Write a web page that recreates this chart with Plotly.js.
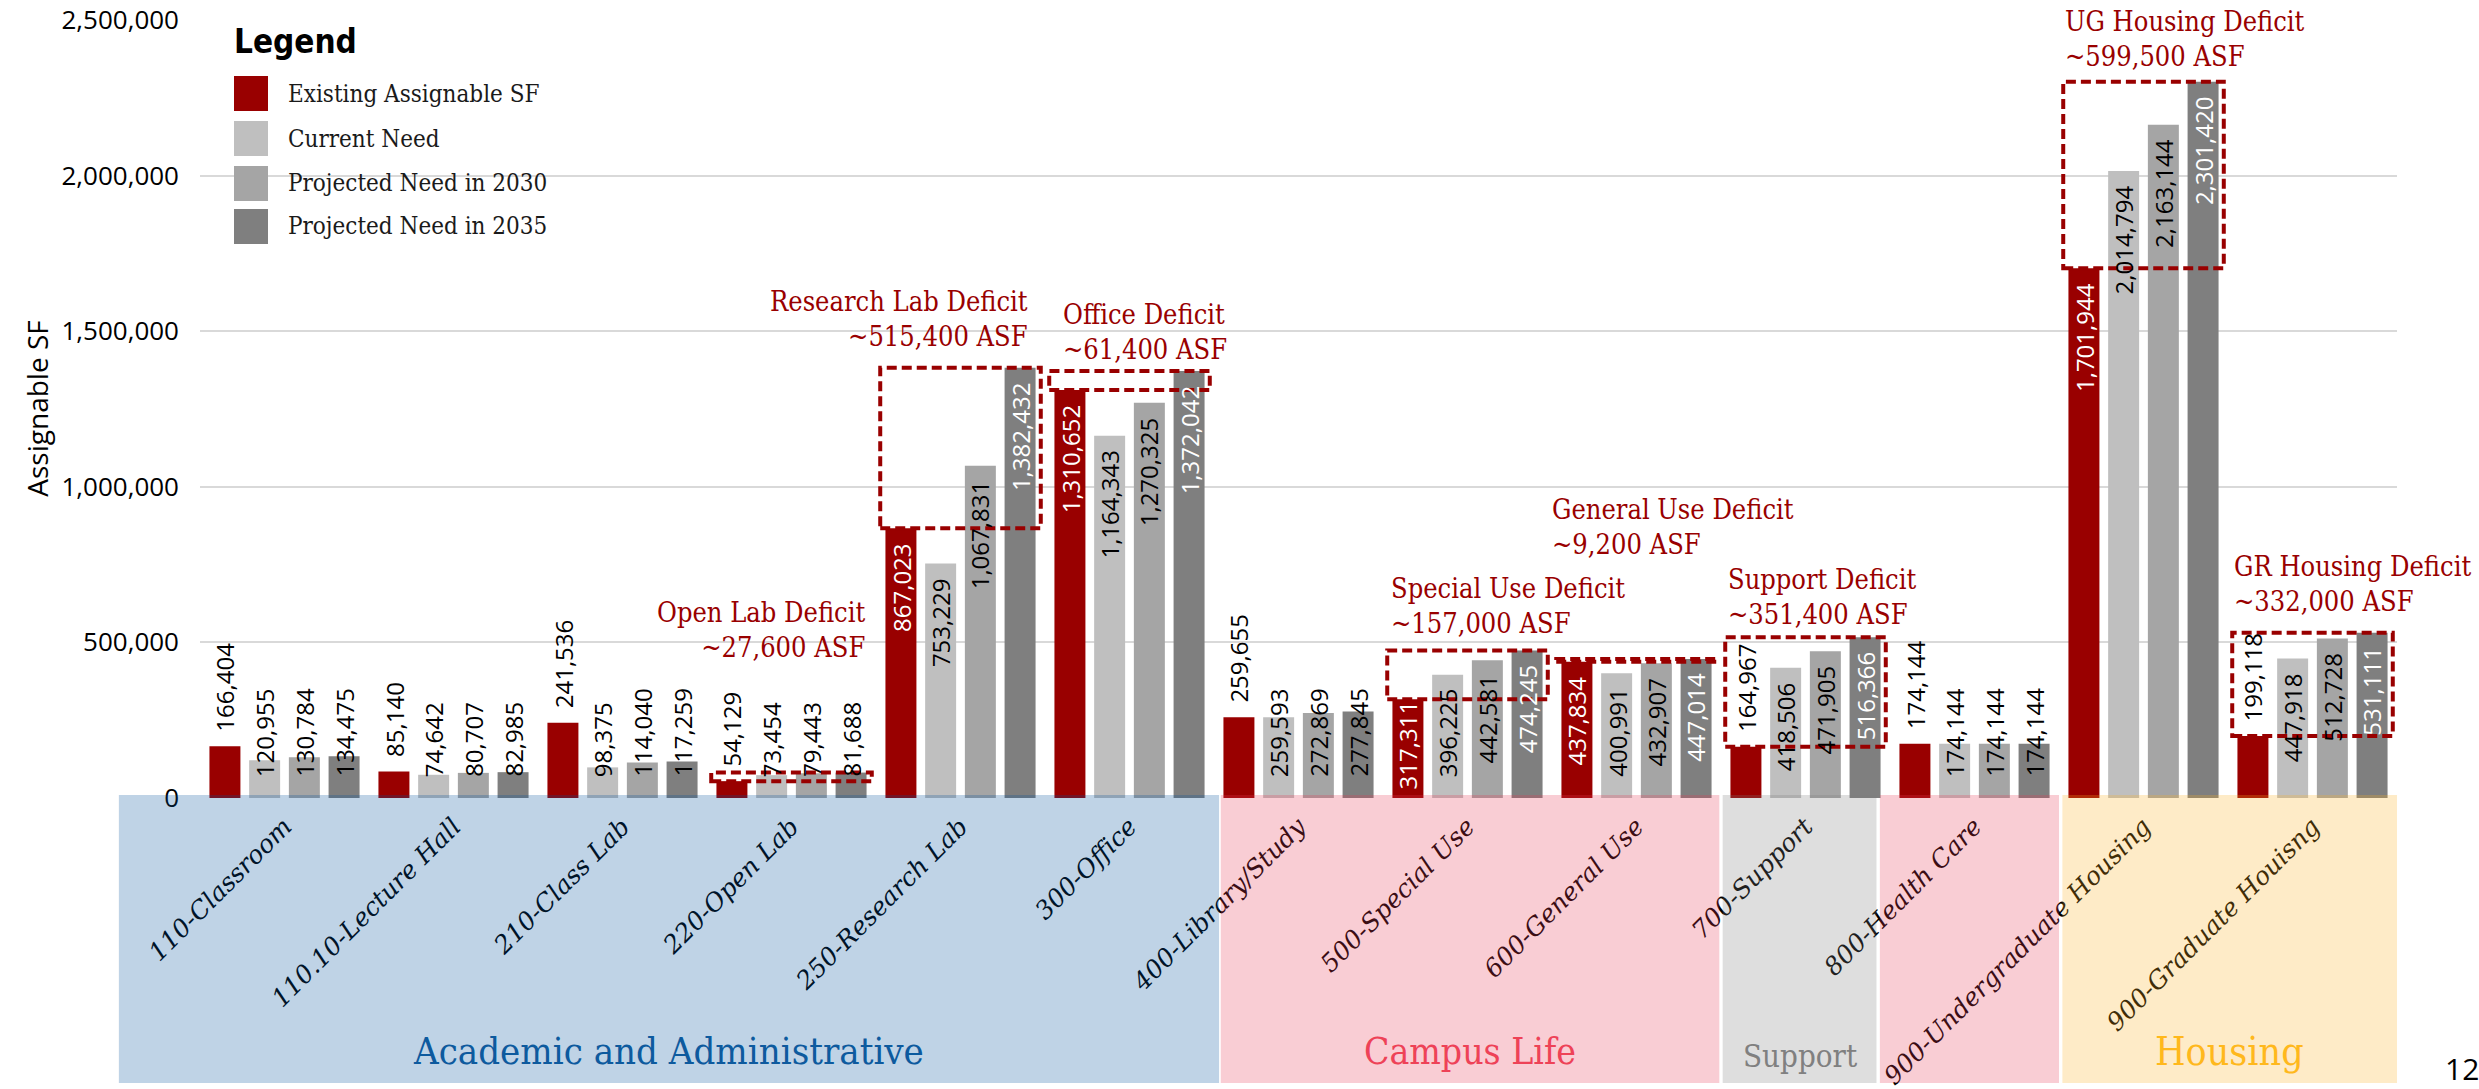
<!DOCTYPE html>
<html>
<head>
<meta charset="utf-8">
<script src="https://cdn.plot.ly/plotly-3.0.1.min.js"></script>
<style>
html,body{margin:0;padding:0;background:#ffffff;}
#chart{width:2479px;height:1089px;}
</style>
</head>
<body>
<div id="chart"></div>
<script>
// ---------------- DATA ----------------
const categories = ["110-Classroom", "110.10-Lecture Hall", "210-Class Lab", "220-Open Lab", "250-Research Lab", "300-Office", "400-Library/Study", "500-Special Use", "600-General Use", "700-Support", "800-Health Care", "900-Undergraduate Housing", "900-Graduate Houisng"];
const seriesNames = ["Existing Assignable SF", "Current Need", "Projected Need in 2030", "Projected Need in 2035"];
const existingSF = [166404, 85140, 241536, 54129, 867023, 1310652, 259655, 317311, 437834, 164967, 174144, 1701944, 199118];
const currentNeed = [120955, 74642, 98375, 73454, 753229, 1164343, 259593, 396225, 400991, 418506, 174144, 2014794, 447918];
const need2030 = [130784, 80707, 114040, 79443, 1067831, 1270325, 272869, 442581, 432907, 471905, 174144, 2163144, 512728];
const need2035 = [134475, 82985, 117259, 81688, 1382432, 1372042, 277845, 474245, 447014, 516366, 174144, 2301420, 531111];
const yTickVals = [0, 500000, 1000000, 1500000, 2000000, 2500000];

const deficitCategories = ["220-Open Lab", "250-Research Lab", "300-Office", "500-Special Use", "600-General Use", "700-Support", "900-Undergraduate Housing", "900-Graduate Houisng"];
const deficitTitles = ["Open Lab Deficit", "Research Lab Deficit", "Office Deficit", "Special Use Deficit", "General Use Deficit", "Support Deficit", "UG Housing Deficit", "GR Housing Deficit"];
const deficitAmounts = ["~27,600 ASF", "~515,400 ASF", "~61,400 ASF", "~157,000 ASF", "~9,200 ASF", "~351,400 ASF", "~599,500 ASF", "~332,000 ASF"];

const groupNames = ["Academic and Administrative", "Campus Life", "Support", "", "Housing"];
const yTitle = "Assignable SF";
const legendTitle = "Legend";
const pageNumber = "12";

// ---------------- STYLE / LAYOUT CONFIG ----------------
const W = 2479, Hh = 1089;
const M = {l: 200, r: 82, t: 19, b: 291};
const plotW = W - M.l - M.r, plotH = Hh - M.t - M.b;
const yRangeTop = 2503000;
const seriesColors = ["#990000", "#bfbfbf", "#a5a5a5", "#7f7f7f"];
const deficitRed = "#990000";
const serif = "DejaVu Serif Condensed, DejaVu Serif, serif";
const sans = "Open Sans, Noto Sans, sans-serif";
const bargap = 0.06, bargroupgap = 0.22;

// band edges in category units, and colours
const bandEdges = [[-0.98, 5.53], [5.54, 8.49], [8.51, 9.42], [9.44, 10.50], [10.52, 12.5]];
const bandColors = ["rgba(0,79,155,0.25)", "rgba(231,55,83,0.25)", "rgba(123,123,123,0.25)", "rgba(231,55,83,0.25)", "rgba(251,175,31,0.25)"];
const groupTextColors = ["#0d5a9e", "#ee4257", "#808080", "#000", "#ffb81c"];
const groupTextSizes = [38, 37, 31, 30, 39];
const groupTextY = [1051, 1051, 1056, 1051, 1051];

// deficit label placement (pixels)
const deficitLabelPos = [
  {x: 866, y: 630, a: "right"},
  {x: 1029, y: 319, a: "right"},
  {x: 1062, y: 332, a: "left"},
  {x: 1390, y: 606, a: "left"},
  {x: 1551, y: 527, a: "left"},
  {x: 1727, y: 597, a: "left"},
  {x: 2064, y: 39, a: "left"},
  {x: 2233, y: 584, a: "left"}
];

const px2paperX = px => (px - M.l) / plotW;
const px2paperY = py => (Hh - M.b - py) / plotH;
const catToPaper = c => (c + 0.5) / categories.length;

// ---------------- TRACES ----------------
const seriesValues = [existingSF, currentNeed, need2030, need2035];
const traces = seriesValues.map((vals, s) => ({
  type: "bar",
  name: seriesNames[s],
  x: categories,
  y: vals,
  marker: {color: seriesColors[s], line: {width: 0}},
  showlegend: false,
  hoverinfo: "skip"
}));

// ---------------- ANNOTATIONS ----------------
const annotations = [];
const catW = plotW / categories.length;
const slot = catW * (1 - bargap) / 4;
const pxPerUnit = plotH / yRangeTop;
function textLenPx(t) {
  let d = 0, c = 0;
  for (const ch of t) { if (ch === ",") c++; else d++; }
  return d * 13.7 + c * 6.2;
}
seriesValues.forEach((vals, s) => {
  vals.forEach((v, i) => {
    const txt = v.toLocaleString("en-US");
    const H = v * pxPerUnit;
    const L = textLenPx(txt);
    let bottom, color;
    if (s === 0) {
      if (H >= L + 6) { bottom = Math.max(H - 16 - L, 8); color = "#ffffff"; }
      else { bottom = H + 14; color = "#000000"; }
    } else {
      const endBottom = H - 16 - L;
      if (endBottom >= 20) { bottom = endBottom; color = (s === 3) ? "#ffffff" : "#000000"; }
      else { bottom = 20; color = "#000000"; }
    }
    annotations.push({
      xref: "x", yref: "y",
      x: categories[i], y: bottom / pxPerUnit,
      xshift: (s - 1.5) * slot,
      yanchor: "bottom", xanchor: "center",
      textangle: -90, showarrow: false, borderpad: 0,
      text: txt,
      font: {family: sans, size: 24, color: color}
    });
  });
});

// deficit labels
deficitTitles.forEach((t, k) => {
  const p = deficitLabelPos[k];
  annotations.push({
    xref: "paper", yref: "paper",
    x: px2paperX(p.x), y: px2paperY(p.y),
    xanchor: p.a, yanchor: "middle", align: p.a,
    showarrow: false, borderpad: 0,
    text: t + "<br>" + deficitAmounts[k],
    font: {family: serif, size: 27, color: deficitRed}
  });
});

// group labels
groupNames.forEach((g, k) => {
  if (!g) return;
  const e = bandEdges[k];
  annotations.push({
    xref: "paper", yref: "paper",
    x: (catToPaper(e[0]) + catToPaper(e[1])) / 2,
    y: px2paperY(groupTextY[k]),
    xanchor: "center", yanchor: "middle", showarrow: false,
    text: g,
    font: {family: serif, size: groupTextSizes[k], color: groupTextColors[k]}
  });
});

// legend (manual)
annotations.push({
  xref: "paper", yref: "paper",
  x: px2paperX(232), y: px2paperY(41),
  xanchor: "left", yanchor: "middle", showarrow: false,
  text: "<b>" + legendTitle + "</b>",
  font: {family: "Liberation Sans Narrow, DejaVu Sans Condensed, sans-serif", size: 33, color: "#000"}
});
const legendRowY = [93.5, 138.5, 183.5, 226.5];
const shapes = [];
seriesNames.forEach((n, s) => {
  shapes.push({
    type: "rect", xref: "paper", yref: "paper", layer: "above",
    x0: px2paperX(234), x1: px2paperX(268),
    y0: px2paperY(legendRowY[s] + 17.5), y1: px2paperY(legendRowY[s] - 17.5),
    fillcolor: seriesColors[s], line: {width: 0}
  });
  annotations.push({
    xref: "paper", yref: "paper",
    x: px2paperX(286), y: px2paperY(legendRowY[s]),
    xanchor: "left", yanchor: "middle", showarrow: false,
    text: n,
    font: {family: serif, size: 24, color: "#1a1a1a"}
  });
});

// page number
annotations.push({
  xref: "paper", yref: "paper",
  x: px2paperX(2462), y: px2paperY(1068),
  xanchor: "center", yanchor: "middle", showarrow: false,
  text: pageNumber,
  font: {family: sans, size: 30, color: "#000"}
});

// ---------------- SHAPES ----------------
// category bands
bandEdges.forEach((e, k) => {
  shapes.push({
    type: "rect", xref: "paper", yref: "paper", layer: "above",
    x0: catToPaper(e[0]), x1: catToPaper(e[1]),
    y0: px2paperY(1083), y1: px2paperY(795),
    fillcolor: bandColors[k], line: {width: 0}
  });
});
// deficit boxes
deficitCategories.forEach((c) => {
  const i = categories.indexOf(c);
  const top = Math.max(currentNeed[i], need2030[i], need2035[i]);
  shapes.push({
    type: "rect", xref: "x", yref: "y", layer: "above",
    x0: i - 0.475, x1: i + 0.475,
    y0: existingSF[i], y1: top,
    fillcolor: "rgba(0,0,0,0)",
    line: {color: deficitRed, width: 4, dash: "10px,5px"}
  });
});

const layout = {
  width: W, height: Hh,
  margin: M,
  paper_bgcolor: "#ffffff", plot_bgcolor: "#ffffff",
  barmode: "group", bargap: bargap, bargroupgap: bargroupgap,
  showlegend: false,
  font: {family: sans, color: "#000"},
  xaxis: {
    type: "category",
    tickangle: -45,
    tickfont: {family: "DejaVu Serif, serif", size: 25, style: "italic", color: "#000"},
    showgrid: false, zeroline: false, showline: false, ticks: "",
    ticklabelstandoff: 8,
    automargin: false
  },
  yaxis: {
    range: [0, yRangeTop],
    tickvals: yTickVals,
    tickformat: ",",
    tickfont: {family: sans, size: 26, color: "#000"},
    ticklabeloverflow: "allow",
    gridcolor: "#d9d9d9", gridwidth: 2,
    zeroline: false, showline: false, ticks: "",
    ticklabelstandoff: 20,
    automargin: false,
    title: {text: yTitle, font: {family: sans, size: 28, color: "#000"}, standoff: 4}
  },
  annotations: annotations,
  shapes: shapes
};

Plotly.newPlot("chart", traces, layout, {displayModeBar: false, staticPlot: true});
</script>
</body>
</html>
